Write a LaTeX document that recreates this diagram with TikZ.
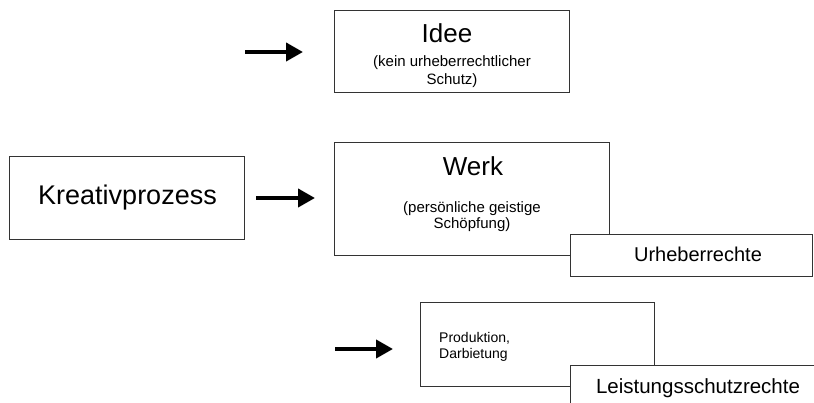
\documentclass[tikz,border=0pt]{standalone}
\usepackage{fontspec}
\setmainfont{Liberation Sans}
\usetikzlibrary{arrows.meta}
\tikzset{
  box/.style={draw=black!80, line width=1pt, fill=white, rectangle, inner sep=0pt},
  txt/.style={anchor=base, inner sep=0pt, text=black},
  big/.style={font=\fontsize{26}{30}\selectfont},
  mid/.style={font=\fontsize{20}{24}\selectfont},
  small/.style={font=\fontsize{15}{17}\selectfont},
  arr/.style={line width=4pt, -{Triangle[length=17pt,width=18pt]}, black}
}
\begin{document}
\begin{tikzpicture}[x=1pt,y=-1pt]
\useasboundingbox (0,0) rectangle (814,403);
\clip (0,0) rectangle (814,403);
% Idee
\node[box, minimum width=235pt, minimum height=82pt] (idee) at (451.5,52) {};
\node[txt, big] (ideeT) at (447,43) {Idee};
\node[txt, small] (ideeS1) at (452,67) {(kein urheberrechtlicher};
\node[txt, small] (ideeS2) at (452,85) {Schutz)};
% Kreativprozess
\node[box, minimum width=235pt, minimum height=83pt] (kreativ) at (126.5,198.5) {};
\node[txt, font=\fontsize{27}{30}\selectfont] (kreativT) at (127.5,205) {Kreativprozess};
% Werk
\node[box, minimum width=275pt, minimum height=113pt] (werk) at (471.5,199.5) {};
\node[txt, big] (werkT) at (473,176) {Werk};
\node[txt, small] (werkS1) at (472,213) {(persönliche geistige};
\node[txt, small] (werkS2) at (472,229) {Schöpfung)};
% Urheberrechte
\node[box, minimum width=242pt, minimum height=42pt] (urh) at (691,256) {};
\node[txt, mid] (urhT) at (698,262) {Urheberrechte};
% Produktion
\node[box, minimum width=234pt, minimum height=83pt] (prod) at (537,344.5) {};
\node[txt, small, anchor=base west, font=\fontsize{14}{16}\selectfont] (prodT1) at (439,343) {Produktion,};
\node[txt, small, anchor=base west, font=\fontsize{14}{16}\selectfont] (prodT2) at (439,359) {Darbietung};
% Leistungsschutzrechte
\node[box, minimum width=260pt, minimum height=60pt] (lsr) at (700,395) {};
\node[txt, font=\fontsize{20.5}{24}\selectfont] (lsrT) at (698,393) {Leistungsschutzrechte};
% arrows
\coordinate (a1s) at (245,52);
\coordinate (a1e) at (303,52);
\coordinate (a2s) at (256,198);
\coordinate (a2e) at (315,198);
\coordinate (a3s) at (335,349);
\coordinate (a3e) at (393,349);
\draw[arr] (a1s) -- (a1e);
\draw[arr] (a2s) -- (a2e);
\draw[arr] (a3s) -- (a3e);
\end{tikzpicture}
\end{document}
